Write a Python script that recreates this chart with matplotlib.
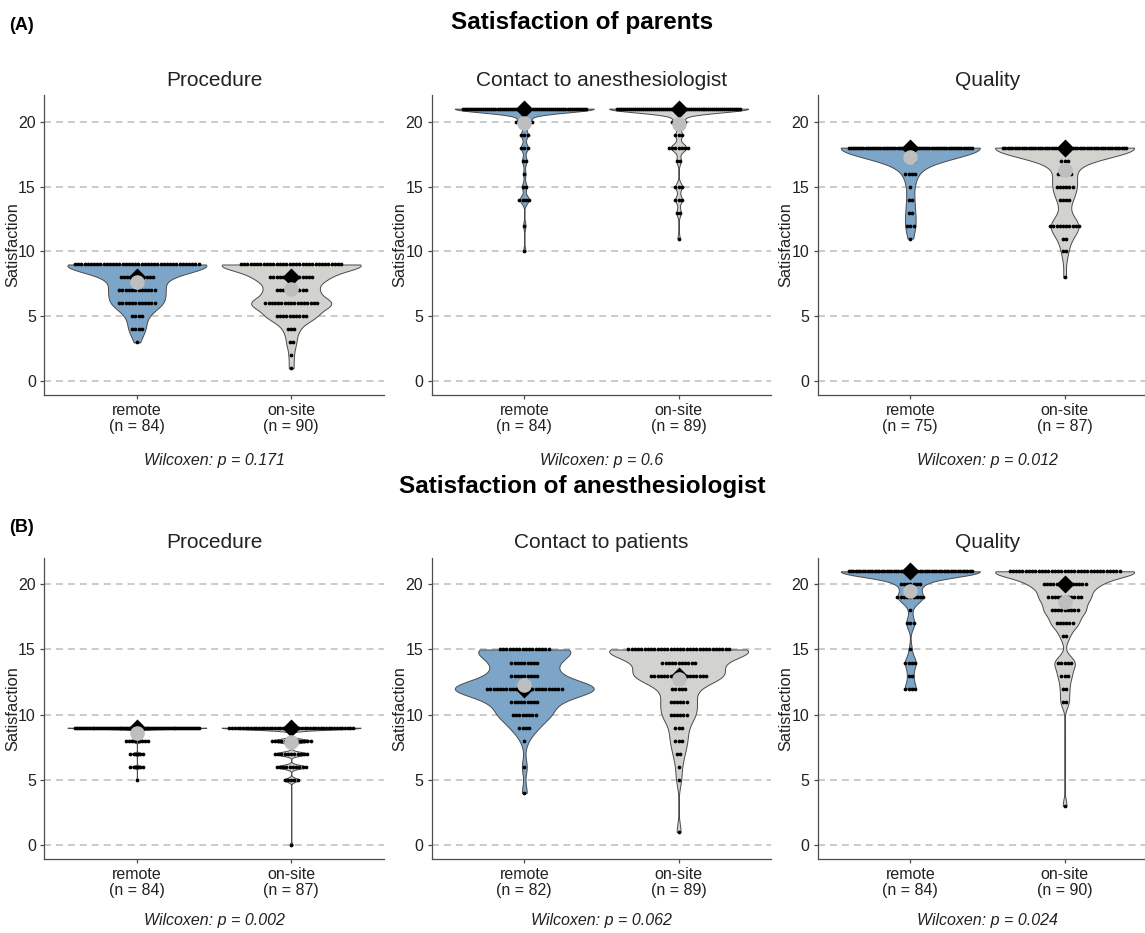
import numpy as np
import matplotlib
matplotlib.use("Agg")
import matplotlib.pyplot as plt

plt.rcParams['font.family'] = ['Liberation Sans', 'DejaVu Sans']
plt.rcParams['lines.scale_dashes'] = False

# ---------------------------------------------------------------
# Satisfaction scores: score -> number of respondents
# ---------------------------------------------------------------
groups = ["remote", "on-site"]

# (A) parents
par_procedure_remote = {9: 40, 8: 11, 7: 12, 6: 12, 5: 4, 4: 4, 3: 1}
par_procedure_onsite = {9: 32, 8: 14, 7: 10, 6: 17, 5: 10, 4: 3, 3: 2, 2: 1, 1: 1}

par_contact_remote = {21: 61, 20: 6, 19: 3, 18: 3, 17: 2, 16: 1, 15: 2, 14: 4, 12: 1, 10: 1}
par_contact_onsite = {21: 63, 20: 5, 19: 3, 18: 7, 17: 2, 15: 3, 14: 3, 13: 2, 11: 1}

par_quality_remote = {18: 59, 17: 3, 16: 4, 15: 1, 14: 2, 13: 2, 12: 3, 11: 1}
par_quality_onsite = {18: 54, 17: 3, 16: 5, 15: 6, 14: 4, 12: 10, 11: 2, 10: 2, 8: 1}

# (B) anesthesiologists
ane_procedure_remote = {9: 65, 8: 8, 7: 5, 6: 5, 5: 1}
ane_procedure_onsite = {9: 47, 8: 13, 7: 11, 6: 10, 5: 5, 0: 1}

ane_contact_remote = {15: 16, 14: 9, 13: 9, 12: 24, 11: 9, 10: 8, 9: 4, 8: 1, 6: 1, 4: 1}
ane_contact_onsite = {15: 32, 14: 11, 13: 18, 12: 5, 11: 6, 10: 6, 9: 3, 8: 3, 7: 2,
                      6: 1, 5: 1, 1: 1}

ane_quality_remote = {21: 53, 20: 7, 19: 9, 18: 1, 17: 3, 15: 1, 14: 4, 13: 2, 12: 4}
ane_quality_onsite = {21: 35, 20: 14, 19: 11, 18: 9, 17: 6, 16: 2, 14: 5, 13: 3, 12: 2,
                      11: 2, 3: 1}

panel_titles = ["Procedure", "Contact to anesthesiologist", "Quality",
                "Procedure", "Contact to patients", "Quality"]
p_values = ["0.171", "0.6", "0.012", "0.002", "0.062", "0.024"]

# kernel bandwidth of each violin (remote, on-site)
bandwidths = [(0.6, 0.5), (0.3, 0.3), (0.8, 0.75),
              (0.08, 0.14), (0.6, 0.65), (0.45, 0.5)]

panel_data = [
    (par_procedure_remote, par_procedure_onsite),
    (par_contact_remote, par_contact_onsite),
    (par_quality_remote, par_quality_onsite),
    (ane_procedure_remote, ane_procedure_onsite),
    (ane_contact_remote, ane_contact_onsite),
    (ane_quality_remote, ane_quality_onsite),
]

# ---------------------------------------------------------------
# Figure layout (pixel geometry at 100 dpi)
# ---------------------------------------------------------------
W, H = 1145, 933
fig = plt.figure(figsize=(W / 100, H / 100), dpi=100, facecolor="white")

FILLS = ["#7DA5C8", "#D2D3CE"]
EDGE = "#4a4a4a"
AX_COL = "#4d4d4d"
TXT_COL = "#222222"
DOT_STEP = 0.021       # horizontal spacing of stacked dots (x units)
ROW_MAX = 0.80         # widest a dot row may get (x units)

col_left = [44.3, 431.7, 817.7]
ax_w = 339.5
row_top = [95.0, 557.6]
row_bot = [395.0, 858.7]


def draw_group(ax, x0, counts, fill, bw):
    vals = np.array(sorted(counts), dtype=float)
    cnt = np.array([counts[int(v)] for v in vals])
    grid = np.linspace(vals.min(), vals.max(), 1200)
    dens = (cnt[:, None] * np.exp(-0.5 * ((grid[None, :] - vals[:, None]) / bw) ** 2)).sum(0)
    half = 0.45 * dens / dens.max()
    ax.fill_betweenx(grid, x0 - half, x0 + half, facecolor=fill, edgecolor=EDGE,
                     linewidth=0.7, zorder=2)
    for v, c in zip(vals, cnt):
        step = min(DOT_STEP, ROW_MAX / (c - 1)) if c > 1 else 0.0
        offs = (np.arange(c) - (c - 1) / 2) * step
        ax.plot(x0 + offs, np.full(c, v), "o", ms=2.7, color="black", mec="none", zorder=3)
    data = np.repeat(vals, cnt)
    ax.plot(x0, np.median(data), "D", ms=9.5, color="black", mec="none", zorder=4)
    ax.plot(x0, data.mean(), "o", ms=10.5, color="#BEBEBE", mec="none", zorder=5)
    return len(data)


for k, (pair, title, pval, bws) in enumerate(zip(panel_data, panel_titles, p_values, bandwidths)):
    r, c = divmod(k, 3)
    left = col_left[c]
    top, bot = row_top[r], row_bot[r]
    ax = fig.add_axes([left / W, 1 - bot / H, ax_w / W, (bot - top) / H])
    ns = []
    for i, counts in enumerate(pair):
        ns.append(draw_group(ax, i + 1, counts, FILLS[i], bws[i]))

    ax.set_xlim(0.4, 2.6)
    ax.set_ylim(-1.05, 22.05)
    ax.set_yticks([0, 5, 10, 15, 20])
    ax.set_xticks([1, 2])
    ax.set_xticklabels([f"{g}\n(n = {n})" for g, n in zip(groups, ns)],
                       fontsize=11.5, color=TXT_COL, linespacing=1.05)
    ax.tick_params(axis="y", labelsize=11.5, labelcolor=TXT_COL, length=3,
                   color=AX_COL, width=0.9, pad=3)
    ax.tick_params(axis="x", length=3, color=AX_COL, width=0.9, pad=3)
    ax.yaxis.grid(True, linestyle=(0, (5.0, 3.6)), color="#BDBDBD", linewidth=1.1)
    ax.set_axisbelow(True)
    for s in ("top", "right"):
        ax.spines[s].set_visible(False)
    for s in ("left", "bottom"):
        ax.spines[s].set_color(AX_COL)
        ax.spines[s].set_linewidth(0.9)
    ax.set_ylabel("Satisfaction", fontsize=11.8, color=TXT_COL)
    ax.yaxis.set_label_coords(-0.071, 0.5)

    cx = (left + ax_w / 2) / W
    title_y = [80, 543][r]
    fig.text(cx, 1 - title_y / H, title, ha="center", va="center", fontsize=15,
             color=TXT_COL)
    wil_y = [461, 921][r]
    fig.text(cx, 1 - wil_y / H, f"Wilcoxen: p = {pval}", ha="center", va="center",
             fontsize=11.5, style="italic", color=TXT_COL)

fig.text(582 / W, 1 - 22 / H, "Satisfaction of parents", ha="center", va="center",
         fontsize=17.5, fontweight="bold", color="black")
fig.text(582 / W, 1 - 487 / H, "Satisfaction of anesthesiologist", ha="center",
         va="center", fontsize=17.5, fontweight="bold", color="black")
fig.text(9 / W, 1 - 26 / H, "(A)", ha="left", va="center", fontsize=13,
         fontweight="bold", color="black")
fig.text(9 / W, 1 - 527 / H, "(B)", ha="left", va="center", fontsize=13,
         fontweight="bold", color="black")

fig.savefig("out.png", dpi=100, facecolor="white")
